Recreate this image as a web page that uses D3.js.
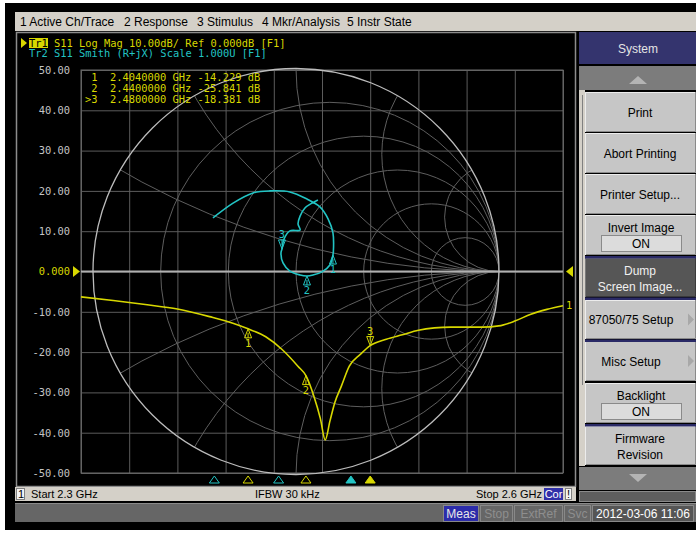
<!DOCTYPE html>
<html lang="en">
<head>
<meta charset="UTF-8">
<script src="https://cdnjs.cloudflare.com/ajax/libs/d3/7.8.5/d3.min.js"></script>
<title>ENA S11</title>
<style>
  html, body { margin: 0; padding: 0; background: #fff; }
  svg { display: block; }
  .ui { font-family: "Liberation Sans", Arial, sans-serif; font-size: 12px; }
  .mono { font-family: "DejaVu Sans Mono", "Liberation Mono", monospace; font-size: 10.4px; white-space: pre; }
</style>
</head>
<body>
<div id="chart"></div>
<script>
// ---- data ----
var freqGHz = [2.300, 2.320, 2.340, 2.360, 2.380, 2.395, 2.404, 2.415, 2.425, 2.435, 2.440, 2.445, 2.449, 2.452,
               2.455, 2.458, 2.462, 2.467, 2.474, 2.480, 2.490, 2.500, 2.510, 2.520, 2.530, 2.540, 2.550,
               2.560, 2.570, 2.580, 2.590, 2.600];
var s11dB = [-6.3, -7.2, -8.2, -9.3, -11.2, -12.9, -14.23, -16.2, -19.3, -23.5, -25.84, -31.0, -36.5, -41.8,
             -37.0, -32.5, -28.5, -23.5, -20.5, -18.38, -16.8, -15.7, -14.6, -14.0, -13.8, -13.8, -13.8,
             -13.5, -12.3, -10.6, -9.4, -8.5];

// smith trace, reflection coefficient (real, imag)
var gammaRe = [-0.409, -0.310, -0.212, -0.128, -0.030, 0.054, 0.118, 0.158, 0.182, 0.185, 0.182, 0.167, 0.128,
               0.084, 0.054, 0.020, -0.030, -0.064, -0.074, -0.069, -0.059, -0.030, 0.020, 0.010, 0.020,
               0.044, 0.079, 0.108];
var gammaIm = [0.264, 0.337, 0.387, 0.397, 0.392, 0.357, 0.318, 0.259, 0.190, 0.121, 0.081, 0.032, -0.002,
               -0.017, -0.022, -0.017, 0.002, 0.042, 0.091, 0.111, 0.160, 0.200, 0.204, 0.234, 0.273,
               0.313, 0.337, 0.352];

var markerFreq = [2.404, 2.440, 2.480];
var markerDB = [-14.229, -25.841, -18.381];
var smithMarkerIdx = [10, 14, 19];
var smithMarkerFreq = [2.383, 2.423, 2.468];
var activeMarker = 2;

var yTickVals = [50, 40, 30, 20, 10, 0, -10, -20, -30, -40, -50];
var yTickLabels = ["50.00", "40.00", "30.00", "20.00", "10.00", "0.000", "-10.00", "-20.00", "-30.00", "-40.00", "-50.00"];
var xGridVals = [2.30, 2.33, 2.36, 2.39, 2.42, 2.45, 2.48, 2.51, 2.54, 2.57, 2.60];
var smithR = [0.2, 0.5, 1, 2, 5];
var smithX = [0.268, 0.577, 1, 1.732, 3.732];

var menuItems = ["1 Active Ch/Trace", "2 Response", "3 Stimulus", "4 Mkr/Analysis", "5 Instr State"];
var softkeys = [
  {label: ["Print"]},
  {label: ["Abort Printing"]},
  {label: ["Printer Setup..."]},
  {label: ["Invert Image"], box: "ON"},
  {label: ["Dump", "Screen Image..."], dark: true},
  {label: ["87050/75 Setup"], arrow: true},
  {label: ["Misc Setup"], arrow: true},
  {label: ["Backlight"], box: "ON"},
  {label: ["Firmware", "Revision"]}
];

var YELLOW = "#d8d800", CYAN = "#22c4c4";

var svg = d3.select("#chart").append("svg").attr("width", 696).attr("height", 533);

// outer frame
svg.append("rect").attr("x", 5).attr("y", 3).attr("width", 691).attr("height", 527).attr("fill", "#000");

// menu bar
svg.append("rect").attr("x", 15).attr("y", 12).attr("width", 681).attr("height", 19).attr("fill", "#d4d0c8");
var menuX = [20, 124, 197, 262, 347];
svg.selectAll(".menu").data(menuItems).enter().append("text")
  .attr("class", "ui").attr("x", (d, i) => menuX[i]).attr("y", 26).attr("fill", "#000").text(d => d);

// display area
svg.append("rect").attr("x", 16.5).attr("y", 32.5).attr("width", 559).attr("height", 454)
  .attr("fill", "#000").attr("stroke", "#8c8c8c").attr("stroke-width", 1.5);

// scales
var x = d3.scaleLinear().domain([2.3, 2.6]).range([81, 563]);
var y = d3.scaleLinear().domain([-50, 50]).range([473, 70]);
var R = 203;
var sx = d3.scaleLinear().domain([-1, 1]).range([296 - R, 296 + R]);
var sy = d3.scaleLinear().domain([-1, 1]).range([271.5 + R, 271.5 - R]);

// rectangular grid
var gxAxis = svg.append("g").attr("transform", "translate(0,473)")
  .call(d3.axisBottom(x).tickValues(xGridVals).tickSize(-403).tickFormat(""));
gxAxis.select(".domain").remove();
gxAxis.selectAll("line").attr("stroke", "#5c5c5c");

var gyAxis = svg.append("g").attr("transform", "translate(81,0)")
  .call(d3.axisLeft(y).tickValues(yTickVals).tickSize(-482).tickPadding(11)
    .tickFormat((d, i) => yTickLabels[i]));
gyAxis.select(".domain").remove();
gyAxis.selectAll("line").attr("stroke", "#5c5c5c");
gyAxis.selectAll("text").attr("class", "mono").attr("fill", d => d === 0 ? YELLOW : "#c4c4c4")
  .style("font-size", "10.4px");

svg.append("rect").attr("x", 81).attr("y", 70).attr("width", 482).attr("height", 403)
  .attr("fill", "none").attr("stroke", "#6a6a6a");

// smith grid
svg.append("clipPath").attr("id", "unit").append("circle")
  .attr("cx", sx(0)).attr("cy", sy(0)).attr("r", R);
var sg = svg.append("g").attr("clip-path", "url(#unit)").attr("fill", "none")
  .attr("stroke", "#5e5e5e").attr("stroke-width", 1);
smithR.forEach(function(r) {
  sg.append("circle").attr("cx", sx(r / (1 + r))).attr("cy", sy(0)).attr("r", R / (1 + r));
});
smithX.forEach(function(v) {
  [1, -1].forEach(function(s) {
    sg.append("circle").attr("cx", sx(1)).attr("cy", sy(s / v)).attr("r", R / v);
  });
});
// reference line
svg.append("line").attr("x1", 81).attr("x2", 563).attr("y1", y(0)).attr("y2", y(0))
  .attr("stroke", "#b0b0b0").attr("stroke-width", 2);
svg.append("circle").attr("cx", sx(0)).attr("cy", sy(0)).attr("r", R)
  .attr("fill", "none").attr("stroke", "#bcbcbc").attr("stroke-width", 1.3);

// ref arrows
svg.append("path").attr("d", d3.line()([[73, y(0) - 5.5], [80, y(0)], [73, y(0) + 5.5]])).attr("fill", YELLOW);
svg.append("path").attr("d", d3.line()([[573, y(0) - 5.5], [566, y(0)], [573, y(0) + 5.5]])).attr("fill", YELLOW);

// header
svg.append("path").attr("d", d3.line()([[21, 38], [27, 43], [21, 48]])).attr("fill", YELLOW);
svg.append("rect").attr("x", 29).attr("y", 38).attr("width", 19).attr("height", 10).attr("fill", YELLOW);
svg.append("text").attr("class", "mono").attr("x", 29).attr("y", 46.5).attr("fill", "#000").text("Tr1");
svg.append("text").attr("class", "mono").attr("x", 54).attr("y", 46.5).attr("fill", YELLOW)
  .text("S11 Log Mag 10.00dB/ Ref 0.000dB [F1]");
svg.append("text").attr("class", "mono").attr("x", 29).attr("y", 57).attr("fill", CYAN)
  .text("Tr2 S11 Smith (R+jX) Scale 1.000U [F1]");

// marker table
svg.selectAll(".mtab").data(markerFreq).enter().append("text")
  .attr("class", "mono").attr("x", 85).attr("y", (d, i) => 81 + i * 11).attr("fill", YELLOW)
  .text((d, i) => (i === activeMarker ? ">" : " ") + (i + 1) + "  " + d.toFixed(7) + " GHz " +
    markerDB[i].toFixed(3) + " dB");

// traces
var logLine = d3.line().x(d => x(d[0])).y(d => y(d[1])).curve(d3.curveMonotoneX);
svg.append("path").datum(d3.zip(freqGHz, s11dB)).attr("d", logLine)
  .attr("fill", "none").attr("stroke", YELLOW).attr("stroke-width", 1.6);
svg.append("text").attr("class", "mono").attr("x", 566).attr("y", y(s11dB[s11dB.length - 1]) + 3)
  .attr("fill", YELLOW).text("1");

var smithLine = d3.line().x(d => sx(d[0])).y(d => sy(d[1])).curve(d3.curveCatmullRom.alpha(0.5));
svg.append("path").datum(d3.zip(gammaRe, gammaIm)).attr("d", smithLine)
  .attr("fill", "none").attr("stroke", CYAN).attr("stroke-width", 1.6);

function drawMarker(px, py, n, active, color) {
  var g = svg.append("g").attr("fill", "none").attr("stroke", color).attr("stroke-width", 1);
  if (active) {
    g.append("path").attr("d", d3.line()([[px - 3.5, py - 9], [px + 3.5, py - 9], [px, py], [px - 3.5, py - 9]]));
    g.append("line").attr("x1", px).attr("x2", px).attr("y1", py - 9).attr("y2", py - 4);
    svg.append("text").attr("class", "mono").attr("x", px).attr("y", py - 11).attr("text-anchor", "middle")
      .attr("fill", color).text(n);
  } else {
    g.append("path").attr("d", d3.line()([[px - 3.5, py + 9], [px + 3.5, py + 9], [px, py], [px - 3.5, py + 9]]));
    g.append("line").attr("x1", px).attr("x2", px).attr("y1", py + 4).attr("y2", py + 9);
    svg.append("text").attr("class", "mono").attr("x", px).attr("y", py + 18).attr("text-anchor", "middle")
      .attr("fill", color).text(n);
  }
}
markerFreq.forEach(function(f, i) {
  drawMarker(x(f), y(markerDB[i]), i + 1, i === activeMarker, YELLOW);
});
smithMarkerIdx.forEach(function(k, i) {
  drawMarker(sx(gammaRe[k]), sy(gammaIm[k]), i + 1, i === activeMarker, CYAN);
});

// bottom marker triangles
function bottomTri(f, color, filled) {
  var px = x(f);
  svg.append("path").attr("d", d3.line()([[px - 5, 483], [px, 476], [px + 5, 483], [px - 5, 483]]))
    .attr("fill", filled ? color : "none").attr("stroke", color).attr("stroke-width", 1);
}
smithMarkerFreq.forEach((f, i) => bottomTri(f, CYAN, i === activeMarker));
markerFreq.forEach((f, i) => bottomTri(f, YELLOW, i === activeMarker));

// status bar
svg.append("rect").attr("x", 15).attr("y", 487).attr("width", 561).attr("height", 14).attr("fill", "#d4d0c8");
svg.append("rect").attr("x", 16.5).attr("y", 488.5).attr("width", 8).attr("height", 11)
  .attr("fill", "#f4f4f4").attr("stroke", "#808080");
var st = [["1", 18], ["Start 2.3 GHz", 31], ["IFBW 30 kHz", 255], ["Stop 2.6 GHz", 476]];
st.forEach(function(s) {
  svg.append("text").attr("class", "ui").style("font-size", "11px").attr("x", s[1]).attr("y", 498)
    .attr("fill", "#000").text(s[0]);
});
svg.append("rect").attr("x", 544).attr("y", 488).attr("width", 19).attr("height", 12).attr("fill", "#3030a8");
svg.append("text").attr("class", "ui").style("font-size", "11px").attr("x", 553.5).attr("y", 498)
  .attr("text-anchor", "middle").attr("fill", "#fff").text("Cor");
svg.append("rect").attr("x", 565.5).attr("y", 488.5).attr("width", 6).attr("height", 11)
  .attr("fill", "#f4f4f4").attr("stroke", "#808080");
svg.append("text").attr("class", "ui").style("font-size", "11px").attr("x", 567).attr("y", 498)
  .attr("fill", "#000").text("!");

// bottom bar
svg.append("rect").attr("x", 15).attr("y", 503).attr("width", 681).attr("height", 19).attr("fill", "#666");
svg.append("line").attr("x1", 15).attr("x2", 696).attr("y1", 503.5).attr("y2", 503.5).attr("stroke", "#8a8a8a");
var bb = [["Meas", 443, 35, "#2c2caa", "#e8e8e8"], ["Stop", 480, 32, "#666", "#8e8e8e"],
          ["ExtRef", 514, 48, "#666", "#8e8e8e"], ["Svc", 564, 26, "#666", "#8e8e8e"],
          ["2012-03-06 11:06", 592, 101, "#555", "#fff"]];
bb.forEach(function(b) {
  svg.append("rect").attr("x", b[1] + 0.5).attr("y", 505.5).attr("width", b[2]).attr("height", 16)
    .attr("fill", b[3]).attr("stroke", "#888");
  svg.append("text").attr("class", "ui").attr("x", b[1] + b[2] / 2 + 0.5).attr("y", 518)
    .attr("text-anchor", "middle").attr("fill", b[4]).text(b[0]);
});

// softkey panel
svg.append("rect").attr("x", 579).attr("y", 32).attr("width", 117).attr("height", 32).attr("fill", "#34346e");
svg.append("text").attr("class", "ui").attr("x", 638).attr("y", 53).attr("text-anchor", "middle")
  .attr("fill", "#e4e4e4").text("System");
svg.append("rect").attr("x", 579).attr("y", 66).attr("width", 117).attr("height", 24).attr("fill", "#7c7c7c");
svg.append("path").attr("d", d3.line()([[629, 84], [638, 76], [647, 84]])).attr("fill", "#b4b4b4");
svg.append("rect").attr("x", 579).attr("y", 90).attr("width", 6).attr("height", 376).attr("fill", "#d4d0c8");
svg.append("line").attr("x1", 582.5).attr("x2", 582.5).attr("y1", 95).attr("y2", 385).attr("stroke", "#808080");

var keyY = [92, 133, 174, 215, 258, 300, 341, 383, 426];
var keyH = [40, 40, 40, 40, 39, 39, 40, 40, 39];
softkeys.forEach(function(k, i) {
  var top = keyY[i], h = keyH[i];
  var g = svg.append("g");
  g.append("rect").attr("x", 585).attr("y", top).attr("width", 111).attr("height", h)
    .attr("fill", k.dark ? "#565656" : "#c6c6c6");
  g.append("path").attr("d", d3.line()([[585.5, top + h], [585.5, top + 0.5], [696, top + 0.5]]))
    .attr("fill", "none").attr("stroke", k.dark ? "#7a7a7a" : "#ececec");
  g.append("path").attr("d", d3.line()([[586, top + h - 0.5], [695.5, top + h - 0.5], [695.5, top]]))
    .attr("fill", "none").attr("stroke", k.dark ? "#3a3a3a" : "#8a8a8a");
  var lines = k.label, col = k.dark ? "#f0f0f0" : "#000";
  if (k.box) {
    g.append("text").attr("class", "ui").attr("x", 641).attr("y", top + 17).attr("text-anchor", "middle")
      .attr("fill", col).text(lines[0]);
    g.append("rect").attr("x", 601.5).attr("y", top + 20.5).attr("width", 80).attr("height", 16)
      .attr("fill", "#dcdcdc").attr("stroke", "#8a8a8a");
    g.append("text").attr("class", "ui").attr("x", 641).attr("y", top + 33).attr("text-anchor", "middle")
      .attr("fill", "#000").text(k.box);
  } else if (lines.length === 2) {
    lines.forEach(function(t, j) {
      g.append("text").attr("class", "ui").attr("x", 640).attr("y", top + 17 + j * 16).attr("text-anchor", "middle")
        .attr("fill", col).text(t);
    });
  } else {
    g.append("text").attr("class", "ui").attr("x", k.arrow ? 631 : 640).attr("y", top + h / 2 + 4.5)
      .attr("text-anchor", "middle").attr("fill", col).text(lines[0]);
  }
  if (k.arrow) {
    g.append("path").attr("d", d3.line()([[688, top + h / 2 - 6], [694, top + h / 2], [688, top + h / 2 + 6]]))
      .attr("fill", "#a8a8a8");
  }
});
// navy separators
[256, 297.5, 339.5, 424].forEach(function(sy0) {
  svg.append("rect").attr("x", 585).attr("y", sy0).attr("width", 111).attr("height", 2.5).attr("fill", "#2a2a66");
});
svg.append("rect").attr("x", 579).attr("y", 467).attr("width", 117).attr("height", 23).attr("fill", "#7c7c7c");
svg.append("path").attr("d", d3.line()([[629, 474], [647, 474], [638, 482]])).attr("fill", "#b4b4b4");
svg.append("rect").attr("x", 579.5).attr("y", 491.5).attr("width", 116).attr("height", 10)
  .attr("fill", "#5e5e5e").attr("stroke", "#8a8a8a");
</script>
</body>
</html>
